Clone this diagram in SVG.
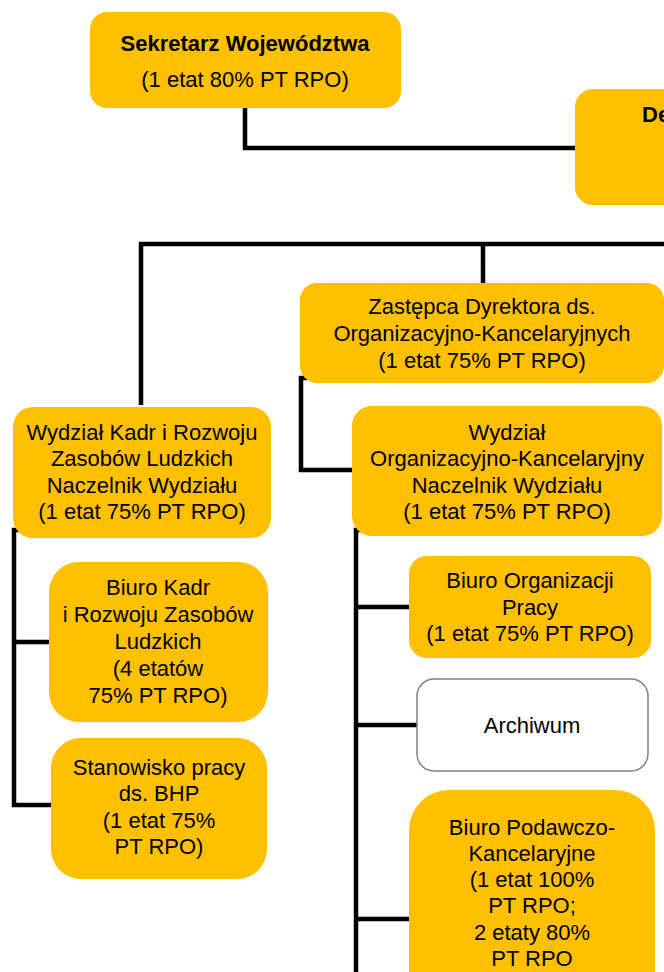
<svg xmlns="http://www.w3.org/2000/svg" width="664" height="972" viewBox="0 0 664 972">
<style>
.box{fill:#FFC000;stroke:none}
.wbox{fill:#FFFFFF;stroke:#7F7F7F;stroke-width:1.5}
.t{font-family:"Liberation Sans",Arial,sans-serif;font-size:22px;fill:#000;text-anchor:middle}
.b{font-weight:bold}
.c{fill:none;stroke:#000;stroke-width:4.5;stroke-linejoin:miter;stroke-linecap:butt}
</style>
<rect width="664" height="972" fill="#FFFFFF"/>
<g id="connectors">
<path class="c" d="M245 108 V148 H576"/>
<path class="c" d="M141 405 V244 H664"/>
<path class="c" d="M483 244 V285"/>
<path class="c" d="M307 378 H301 V470 H353"/>
<path class="c" d="M20 530 H14 V805 H52"/>
<path class="c" d="M14 642 H50"/>
<path class="c" d="M362 530 H356 V972"/>
<path class="c" d="M356 607 H410"/>
<path class="c" d="M356 725 H418"/>
<path class="c" d="M356 919 H410"/>
</g>
<g id="sekretarz">
<rect class="box" x="90" y="12" width="311" height="96" rx="17"/>
<text class="t b" x="245" y="51">Sekretarz Województwa</text>
<text class="t" x="245" y="87">(1 etat 80% PT RPO)</text>
</g>
<g id="dyrektor">
<rect class="box" x="575" y="89" width="120" height="116" rx="18"/>
<text class="t b" x="642" y="122" style="text-anchor:start">De</text>
</g>
<g id="zastepca">
<rect class="box" x="300" y="283" width="364" height="100" rx="17"/>
<text class="t" x="482" y="314">Zastępca Dyrektora ds.</text>
<text class="t" x="482" y="341">Organizacyjno-Kancelaryjnych</text>
<text class="t" x="482" y="368">(1 etat 75% PT RPO)</text>
</g>
<g id="wydzial-kadr">
<rect class="box" x="13" y="407" width="258" height="131" rx="20"/>
<text class="t" x="142" y="440">Wydział Kadr i Rozwoju</text>
<text class="t" x="142" y="466">Zasobów Ludzkich</text>
<text class="t" x="142" y="493">Naczelnik Wydziału</text>
<text class="t" x="142" y="519">(1 etat 75% PT RPO)</text>
</g>
<g id="wydzial-org">
<rect class="box" x="352" y="406" width="310" height="130" rx="20"/>
<text class="t" x="507" y="440">Wydział</text>
<text class="t" x="507" y="466">Organizacyjno-Kancelaryjny</text>
<text class="t" x="507" y="493">Naczelnik Wydziału</text>
<text class="t" x="507" y="519">(1 etat 75% PT RPO)</text>
</g>
<g id="biuro-kadr">
<rect class="box" x="49" y="562" width="219" height="160" rx="30"/>
<text class="t" x="158" y="595">Biuro Kadr</text>
<text class="t" x="158" y="622">i Rozwoju Zasobów</text>
<text class="t" x="158" y="649">Ludzkich</text>
<text class="t" x="158" y="676">(4 etatów</text>
<text class="t" x="158" y="703">75% PT RPO)</text>
</g>
<g id="stanowisko-bhp">
<rect class="box" x="51" y="738" width="216" height="141" rx="30"/>
<text class="t" x="159" y="775">Stanowisko pracy</text>
<text class="t" x="159" y="801">ds. BHP</text>
<text class="t" x="159" y="828">(1 etat 75%</text>
<text class="t" x="159" y="854">PT RPO)</text>
</g>
<g id="biuro-organizacji">
<rect class="box" x="409" y="556" width="242" height="102" rx="18"/>
<text class="t" x="530" y="588">Biuro Organizacji</text>
<text class="t" x="530" y="615">Pracy</text>
<text class="t" x="530" y="641">(1 etat 75% PT RPO)</text>
</g>
<g id="archiwum">
<rect class="wbox" x="417" y="679" width="231" height="92" rx="17"/>
<text class="t" x="532" y="733">Archiwum</text>
</g>
<g id="biuro-podawczo">
<rect class="box" x="409" y="790" width="246" height="230" rx="40"/>
<text class="t" x="532" y="835">Biuro Podawczo-</text>
<text class="t" x="532" y="861">Kancelaryjne</text>
<text class="t" x="532" y="887">(1 etat 100%</text>
<text class="t" x="532" y="913">PT RPO;</text>
<text class="t" x="532" y="940">2 etaty 80%</text>
<text class="t" x="532" y="966">PT RPO</text>
</g>
</svg>
